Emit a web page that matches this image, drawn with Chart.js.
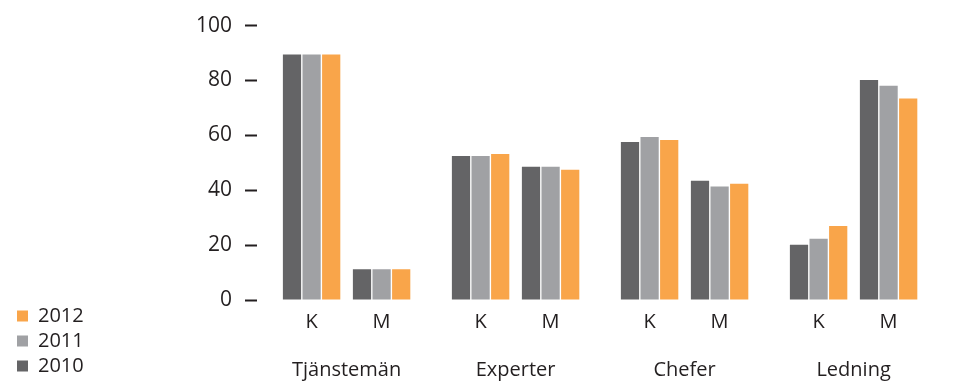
<!DOCTYPE html>
<html>
<head>
<meta charset="utf-8">
<script src="https://cdn.jsdelivr.net/npm/chart.js@4/dist/chart.umd.min.js"></script>
<style>
  html, body { margin: 0; padding: 0; background: #fff; }
  #wrap { width: 966px; height: 386px; }
</style>
</head>
<body>
<div id="wrap"><canvas id="chart"></canvas></div>
<script>
// Data
const groups = ['Tjänstemän', 'Experter', 'Chefer', 'Ledning'];
const subLabels = ['K', 'M'];
const years = ['2010', '2011', '2012'];
const values2010 = [89.5, 11.2, 52.5, 48.6, 57.6, 43.5, 20.1, 80.2];
const values2011 = [89.5, 11.2, 52.5, 48.6, 59.4, 41.4, 22.3, 78.1];
const values2012 = [89.5, 11.2, 53.2, 47.5, 58.3, 42.4, 27.0, 73.4];
const yTicks = [0, 20, 40, 60, 80, 100];

const colors = ['#646466', '#a0a1a4', '#f9a54a'];
const textColor = '#231f20';
const fontFamily = "'Open Sans', 'DejaVu Sans', sans-serif";

// K and M sit closer to each other than to the next group
const groupPitch = 169 / 70;
const positions = [];
const posLabels = [];
groups.forEach((g, gi) => {
    subLabels.forEach((s, si) => {
        positions.push(gi * groupPitch + si);
        posLabels.push(s);
    });
});
const groupCenters = groups.map((g, gi) => gi * groupPitch + 0.5);

const xMin = -0.78;
const xMax = 9.12;
const plotLeft = 257;
const padLeft = 12;

const series = [values2010, values2011, values2012];

new Chart(document.getElementById('chart'), {
    type: 'bar',
    data: {
        datasets: series.map((vals, i) => ({
            label: years[i],
            data: vals.map((v, j) => ({ x: positions[j], y: v })),
            backgroundColor: colors[i],
            borderWidth: 0,
            categoryPercentage: 0.84,
            barPercentage: 0.93
        }))
    },
    options: {
        responsive: true,
        maintainAspectRatio: false,
        animation: false,
        layout: { padding: { top: 10, right: 16, bottom: 5, left: padLeft } },
        plugins: {
            tooltip: { enabled: false },
            legend: {
                position: 'left',
                align: 'end',
                reverse: true,
                labels: {
                    boxWidth: 11,
                    boxHeight: 11,
                    padding: 5,
                    color: textColor,
                    font: { family: fontFamily, size: 20 }
                }
            }
        },
        scales: {
            x: {
                type: 'linear',
                offset: false,
                min: xMin,
                max: xMax,
                position: 'bottom',
                grid: { display: false, drawTicks: false, offset: false },
                border: { display: false },
                afterBuildTicks: axis => {
                    axis.ticks = positions.map(v => ({ value: v }));
                },
                afterFit: axis => { axis.height = 47; },
                ticks: {
                    autoSkip: false,
                    maxRotation: 0,
                    padding: 10,
                    color: textColor,
                    font: { family: fontFamily, size: 20 },
                    callback: (value, index) => posLabels[index]
                }
            },
            x2: {
                type: 'linear',
                offset: false,
                min: xMin,
                max: xMax,
                position: 'bottom',
                grid: { display: false, drawTicks: false },
                border: { display: false },
                afterBuildTicks: axis => {
                    axis.ticks = groupCenters.map(v => ({ value: v }));
                },
                afterFit: axis => { axis.height = 34; },
                ticks: {
                    autoSkip: false,
                    maxRotation: 0,
                    padding: 11,
                    color: textColor,
                    font: { family: fontFamily, size: 20 },
                    callback: (value, index) => groups[index]
                }
            },
            y: {
                min: 0,
                max: 100,
                afterBuildTicks: axis => {
                    axis.ticks = yTicks.map(v => ({ value: v }));
                },
                afterFit: axis => {
                    const lg = axis.chart.legend;
                    axis.width = plotLeft - padLeft - (lg ? lg.width : 80);
                },
                grid: {
                    drawOnChartArea: false,
                    drawTicks: true,
                    tickLength: 12,
                    tickWidth: 2,
                    tickColor: textColor
                },
                border: { display: false },
                ticks: {
                    padding: 13,
                    color: textColor,
                    font: { family: fontFamily, size: 21 }
                }
            }
        }
    }
});
</script>
</body>
</html>
